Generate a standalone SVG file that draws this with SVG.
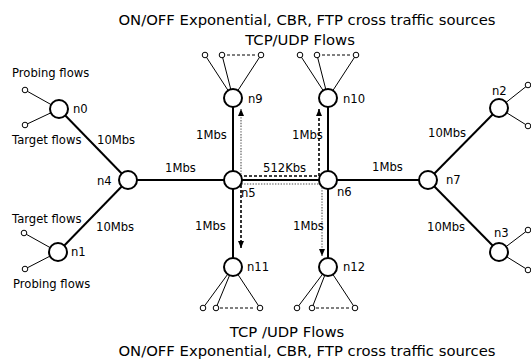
<svg xmlns="http://www.w3.org/2000/svg" width="531" height="362" viewBox="0 0 531 362">
<style>
text{font-family:"DejaVu Sans",Verdana,sans-serif;fill:#000}
.t{font-size:14.8px;text-anchor:middle}
.s{font-size:11.6px}
.lab{font-size:11.6px}
.link{stroke:#000;stroke-width:2;fill:none}
.thin{stroke:#000;stroke-width:1;fill:none}
.node{fill:#fff;stroke:#000;stroke-width:2}
.leaf{fill:#fff;stroke:#000;stroke-width:1}
.dash{stroke:#000;stroke-width:1;stroke-dasharray:3 2;fill:none}
.fdash{stroke:#000;stroke-width:1.6;stroke-dasharray:3 2;fill:none}
.dot{stroke:#888;stroke-width:1.6;stroke-dasharray:1.4 1.4;fill:none}
</style>
<defs>
<marker id="ah" markerUnits="userSpaceOnUse" markerWidth="8" markerHeight="8" refX="7" refY="4" orient="auto-start-reverse">
<path d="M0,1 L7,4 L0,7 Z" fill="#000"/>
</marker>
</defs>

<text class="t" x="307" y="25">ON/OFF Exponential, CBR, FTP cross traffic sources</text>
<text class="t" x="300" y="45">TCP/UDP Flows</text>
<text class="t" x="287" y="337">TCP /UDP Flows</text>
<text class="t" x="307" y="356">ON/OFF Exponential, CBR, FTP cross traffic sources</text>

<g id="connectors">
<line class="link" x1="128" y1="180" x2="428" y2="180"/>
<line class="link" x1="128" y1="180" x2="59" y2="109"/>
<line class="link" x1="128" y1="180" x2="58" y2="252"/>
<line class="link" x1="233" y1="180" x2="233" y2="98"/>
<line class="link" x1="233" y1="180" x2="233" y2="267"/>
<line class="link" x1="328" y1="180" x2="328" y2="98"/>
<line class="link" x1="328" y1="180" x2="328" y2="267"/>
<line class="link" x1="428" y1="180" x2="499" y2="108"/>
<line class="link" x1="428" y1="180" x2="499" y2="252"/>
<path class="thin" d="M25,90 L59,109 L25,125 M24,233 L58,252 L25,269"/>
<path class="thin" d="M528,85 L499,108 L528,126 M528,230 L499,252 L528,270"/>
<path class="thin" d="M205,55 L233,98 L222,55 M261,55 L233,98"/>
<path class="thin" d="M300,55 L328,98 L317,55 M356,55 L328,98"/>
<path class="thin" d="M203,308 L233,267 L216,308 M260,308 L233,267"/>
<path class="thin" d="M297,308 L328,267 L312,308 M355,308 L328,267"/>
<path class="dash" d="M227,55 H256 M322,55 H351 M220,308 H255 M316,308 H350"/>
<path class="dot" d="M322,256 L322,184 L241,184 L241,109" marker-start="url(#ah)" marker-end="url(#ah)"/>
<path class="fdash" d="M241,248 L241,176 L319,176 L319,109" marker-start="url(#ah)" marker-end="url(#ah)"/>
</g>

<g id="n0"><circle class="node" cx="59" cy="109" r="9"/><text class="lab" x="73" y="113">n0</text></g>
<g id="leaf-n0"><circle class="leaf" cx="25" cy="90" r="2.8"/><circle class="leaf" cx="25" cy="125" r="2.8"/></g>
<g id="n1"><circle class="node" cx="58" cy="252" r="9"/><text class="lab" x="71" y="256">n1</text></g>
<g id="leaf-n1"><circle class="leaf" cx="24" cy="233" r="2.8"/><circle class="leaf" cx="25" cy="269" r="2.8"/></g>
<g id="n2"><circle class="node" cx="499" cy="108" r="9"/><text class="lab" x="492" y="95">n2</text></g>
<g id="leaf-n2"><circle class="leaf" cx="528" cy="85" r="2.8"/><circle class="leaf" cx="528" cy="126" r="2.8"/></g>
<g id="n3"><circle class="node" cx="499" cy="252" r="9"/><text class="lab" x="494" y="237">n3</text></g>
<g id="leaf-n3"><circle class="leaf" cx="528" cy="230" r="2.8"/><circle class="leaf" cx="528" cy="270" r="2.8"/></g>
<g id="n4"><circle class="node" cx="128" cy="180" r="9"/><text class="lab" x="97" y="185">n4</text></g>
<g id="n5"><circle class="node" cx="233" cy="180" r="9"/><text class="lab" x="241" y="197">n5</text></g>
<g id="n6"><circle class="node" cx="328" cy="180" r="9"/><text class="lab" x="337" y="196">n6</text></g>
<g id="n7"><circle class="node" cx="428" cy="180" r="9"/><text class="lab" x="446" y="184">n7</text></g>
<g id="n9"><circle class="node" cx="233" cy="98" r="9"/><text class="lab" x="248" y="103">n9</text></g>
<g id="leaf-n9"><circle class="leaf" cx="205" cy="55" r="2.8"/><circle class="leaf" cx="222" cy="55" r="2.8"/><circle class="leaf" cx="261" cy="55" r="2.8"/></g>
<g id="n10"><circle class="node" cx="328" cy="98" r="9"/><text class="lab" x="343" y="103">n10</text></g>
<g id="leaf-n10"><circle class="leaf" cx="300" cy="55" r="2.8"/><circle class="leaf" cx="317" cy="55" r="2.8"/><circle class="leaf" cx="356" cy="55" r="2.8"/></g>
<g id="n11"><circle class="node" cx="233" cy="267" r="9"/><text class="lab" x="247" y="271">n11</text></g>
<g id="leaf-n11"><circle class="leaf" cx="203" cy="308" r="2.8"/><circle class="leaf" cx="216" cy="308" r="2.8"/><circle class="leaf" cx="260" cy="308" r="2.8"/></g>
<g id="n12"><circle class="node" cx="328" cy="267" r="9"/><text class="lab" x="343" y="271">n12</text></g>
<g id="leaf-n12"><circle class="leaf" cx="297" cy="308" r="2.8"/><circle class="leaf" cx="312" cy="308" r="2.8"/><circle class="leaf" cx="355" cy="308" r="2.8"/></g>

<g id="labels">
<text class="s" x="12" y="77">Probing flows</text>
<text class="s" x="12" y="144">Target flows</text>
<text class="s" x="12" y="223">Target flows</text>
<text class="s" x="13" y="288">Probing flows</text>
<text class="lab" x="97" y="144">10Mbs</text>
<text class="lab" x="96" y="231">10Mbs</text>
<text class="lab" x="165" y="172">1Mbs</text>
<text class="lab" x="196" y="139">1Mbs</text>
<text class="lab" x="292" y="139">1Mbs</text>
<text class="lab" x="263" y="172">512Kbs</text>
<text class="lab" x="195" y="230">1Mbs</text>
<text class="lab" x="293" y="230">1Mbs</text>
<text class="lab" x="372" y="171">1Mbs</text>
<text class="lab" x="428" y="137">10Mbs</text>
<text class="lab" x="427" y="231">10Mbs</text>
</g>
</svg>
